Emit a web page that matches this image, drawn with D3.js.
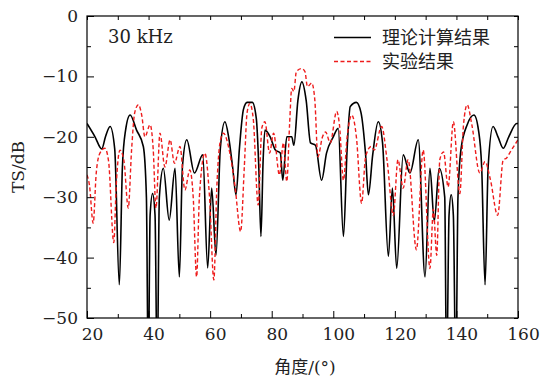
<!DOCTYPE html>
<html>
<head>
<meta charset="utf-8">
<script src="https://cdn.jsdelivr.net/npm/d3@7"></script>
<style>
  body { margin: 0; background: #fff; }
  svg { display: block; }
</style>
</head>
<body>
<svg id="chart" width="540" height="381"></svg>
<script>
// theory curve (black solid)
const theoryAngle = [20, 22.6, 24.8, 26, 27.5, 29, 30.5, 31.5, 32.5, 34, 36.1, 38.3, 39.3, 39.9, 40.5, 41.3, 42.1, 42.8,
  43.5, 44.8, 46.7, 48.6, 50, 51, 52.4, 54.9, 57.6, 59.2, 60.5, 61.9, 63.3, 64.8, 66, 67.3, 68.4, 69.5, 70.8, 72,
  73.7, 75, 75.8, 76.5, 77.2, 77.8, 79.5, 81.2, 82.8, 83.6, 84.9, 86.5, 87.2, 88.5, 89.8, 91.2, 92.6, 94.2, 96.2,
  97.8, 100, 101.6, 103.3, 104.5, 105.5, 107.5, 109, 110.5, 111.4, 112.8, 114.6, 116, 117.9, 119.2, 120.6, 122.7,
  124.9, 127.6, 129.8, 131.4, 132.8, 134.4, 136.2, 136.8, 137.6, 138.3, 139.0, 139.8, 140.5, 141.5, 143.5, 145.7,
  147.2, 148.2, 149.3, 150.3, 151.9, 153.5, 155.2, 157, 159.6, 160];
const theoryTS = [-17.8, -20, -22, -20, -18.3, -22, -44.5, -25, -19, -16.4, -18.9, -21.6, -30, -60, -33, -29.4, -33, -60,
  -30, -25.2, -33.8, -25.2, -43.2, -25, -20.5, -26, -23, -41.7, -28.5, -39.6, -22, -17.5, -20, -25, -29.6, -22, -15.5, -14.3,
  -14.3, -17, -25, -36.5, -24, -18.9, -20, -22.2, -22.7, -27.2, -20, -20, -21.4, -14, -10.9, -14, -21, -21.4, -27.2,
  -22.7, -20, -18.6, -36.5, -22, -15, -14.3, -16, -23, -29.6, -23, -17.5, -21, -39.8, -28.5, -41.8, -23,
  -26, -20.5, -43.2, -25.2, -34, -25.2, -30, -60, -33, -29.6, -33, -60, -30, -22, -18, -16.4,
  -19, -25, -44.5, -25, -18.3, -20, -21.9, -20, -17.8, -17.8];

// experiment curve (red dashed)
const expAngle = [20, 20.8, 22, 23, 24.2, 25.8, 27, 28.7, 29.5, 30.7, 32, 33.4, 34.5, 35.5, 36.7, 37.8, 38.8, 40.5, 41.5,
  42.4, 43.7, 45.3, 47, 48.4, 50.2, 51.8, 53.4, 54.5, 55.6, 56.5, 58.3, 59.8, 61.2, 62.2, 63.2, 64.3, 66.4, 68.1, 69.9,
  71.1, 72, 72.9, 74, 75.6, 76.8, 77.8, 79.3, 80.6, 82.5, 83.8, 84.9, 85.8, 86.5, 87.2, 88, 89.7, 90.8, 91.6, 93, 94,
  95, 96.5, 97.5, 99, 101.1, 102, 103.3, 104.5, 106, 107.5, 109.2, 110.5, 112.3, 113.3, 115.7, 117.5, 119.5, 121,
  122.7, 124.3, 127, 129.2, 131.4, 132.5, 133.6, 134.6, 135.8, 137.3, 139, 141.1, 142.3, 143.5, 145, 147.6, 149.3,
  151, 153.4, 155.2, 156.3, 157.5, 160];
const expTS = [-26.3, -28, -34.3, -26, -22.7, -21.9, -24, -37.5, -28, -22.2, -24, -31.8, -22, -16, -14.7, -16.5, -20, -18, -22,
  -31.8, -19.4, -25, -20.5, -24.4, -21.6, -28.8, -25.5, -30, -43.2, -30, -22.7, -30, -43.7, -28, -21, -19.4, -22.7, -28.3, -35.7,
  -25, -16, -14.5, -17, -31.3, -18.5, -17.5, -22.7, -19.4, -26.3, -21, -27.4, -18, -12, -12.5, -9.2, -8.7, -9.2, -11.7, -11.1, -13.9,
  -23.3, -20, -19.2, -21, -15.8, -18, -27.2, -20, -16.4, -20, -31, -23.3, -21.6, -22.2, -18.3, -24, -33, -23.8,
  -28.5, -23.8, -38.7, -22.2, -41.8, -32, -39.6, -23.8, -22.5, -28.3, -17.5, -29.4, -18, -14.7, -18, -26, -24.1,
  -27, -33, -23.8, -23.5, -22.5, -20.5];

const xTicks = [20, 40, 60, 80, 100, 120, 140, 160];
const xMinor = [30, 50, 70, 90, 110, 130, 150];
const yTicks = [0, -10, -20, -30, -40, -50];
const yMinor = [-5, -15, -25, -35, -45];
const legendNames = ["理论计算结果", "实验结果"];

const serif = "'DejaVu Serif', 'Liberation Serif', serif";
const cjk = "'Noto Sans CJK SC', sans-serif";
const textColor = "#222";
const red = "#ee1c1c";

const svg = d3.select("#chart");
const mLeft = 87, mRight = 518, mTop = 16, mBottom = 318;

const x = d3.scaleLinear().domain([20, 160]).range([mLeft, mRight]);
const y = d3.scaleLinear().domain([-50, 0]).range([mBottom, mTop]);

svg.append("clipPath").attr("id", "plotClip")
  .append("rect").attr("x", mLeft).attr("y", mTop).attr("width", mRight - mLeft).attr("height", mBottom - mTop);

const line = d3.line()
  .x(d => x(d[0]))
  .y(d => y(d[1]))
  .curve(d3.curveMonotoneX);

const plot = svg.append("g").attr("clip-path", "url(#plotClip)");

plot.append("path")
  .datum(d3.zip(theoryAngle, theoryTS))
  .attr("d", line)
  .attr("fill", "none")
  .attr("stroke", "#000")
  .attr("stroke-width", 1.6);

plot.append("path")
  .datum(d3.zip(expAngle, expTS))
  .attr("d", line)
  .attr("fill", "none")
  .attr("stroke", red)
  .attr("stroke-width", 1.4)
  .attr("stroke-dasharray", "4,2.5");

// axes, ticks pointing inward on all four sides
function styleAxis(g) {
  g.attr("font-family", serif).attr("font-size", 17);
  g.select(".domain").remove();
  g.selectAll(".tick line").attr("stroke", "#000").attr("stroke-width", 1);
  g.selectAll(".tick text").attr("fill", textColor);
}

svg.append("g").attr("transform", `translate(0,${mBottom})`)
  .call(d3.axisBottom(x).tickValues(xTicks).tickSize(-7).tickPadding(10).tickFormat(d3.format("d")))
  .call(styleAxis)
  .call(g => g.selectAll(".tick text").attr("dx", 5));
svg.append("g").attr("transform", `translate(0,${mBottom})`)
  .call(d3.axisBottom(x).tickValues(xMinor).tickSize(-4).tickFormat(""))
  .call(styleAxis);
svg.append("g").attr("transform", `translate(0,${mTop})`)
  .call(d3.axisTop(x).tickValues(xTicks.concat(xMinor)).tickSize(-4).tickFormat(""))
  .call(styleAxis);

svg.append("g").attr("transform", `translate(${mLeft},0)`)
  .call(d3.axisLeft(y).tickValues(yTicks).tickSize(-7).tickPadding(9).tickFormat(d3.format("d")))
  .call(styleAxis);
svg.append("g").attr("transform", `translate(${mLeft},0)`)
  .call(d3.axisLeft(y).tickValues(yMinor).tickSize(-4).tickFormat(""))
  .call(styleAxis);
svg.append("g").attr("transform", `translate(${mRight},0)`)
  .call(d3.axisRight(y).tickValues(yTicks.concat(yMinor)).tickSize(-4).tickFormat(""))
  .call(styleAxis);

svg.append("rect")
  .attr("x", mLeft).attr("y", mTop)
  .attr("width", mRight - mLeft).attr("height", mBottom - mTop)
  .attr("fill", "none").attr("stroke", "#000").attr("stroke-width", 1.2);

// labels
svg.append("text")
  .attr("x", 108).attr("y", 43)
  .attr("font-family", serif).attr("font-size", 18)
  .attr("fill", textColor)
  .text("30 kHz");

const axisTitle = svg.append("text")
  .attr("x", 305).attr("y", 373)
  .attr("text-anchor", "middle")
  .attr("fill", textColor);
axisTitle.append("tspan").attr("font-family", cjk).attr("font-size", 17).text("角度");
axisTitle.append("tspan").attr("font-family", serif).attr("font-size", 17).text("/(°)");

svg.append("text")
  .attr("transform", `translate(24,${(mTop + mBottom) / 2}) rotate(-90)`)
  .attr("text-anchor", "middle")
  .attr("font-family", serif).attr("font-size", 17)
  .attr("fill", textColor)
  .text("TS/dB");

// legend
const legend = svg.append("g");
legendNames.forEach((name, i) => {
  const ly = 37.5 + i * 24;
  legend.append("line")
    .attr("x1", 334).attr("x2", 371).attr("y1", ly).attr("y2", ly)
    .attr("stroke", i === 0 ? "#000" : red)
    .attr("stroke-width", i === 0 ? 1.6 : 1.4)
    .attr("stroke-dasharray", i === 0 ? null : "4,2.5");
  legend.append("text")
    .attr("x", 382).attr("y", ly + 6.5)
    .attr("font-family", cjk).attr("font-size", 18)
    .attr("fill", textColor)
    .text(name);
});
</script>
</body>
</html>
